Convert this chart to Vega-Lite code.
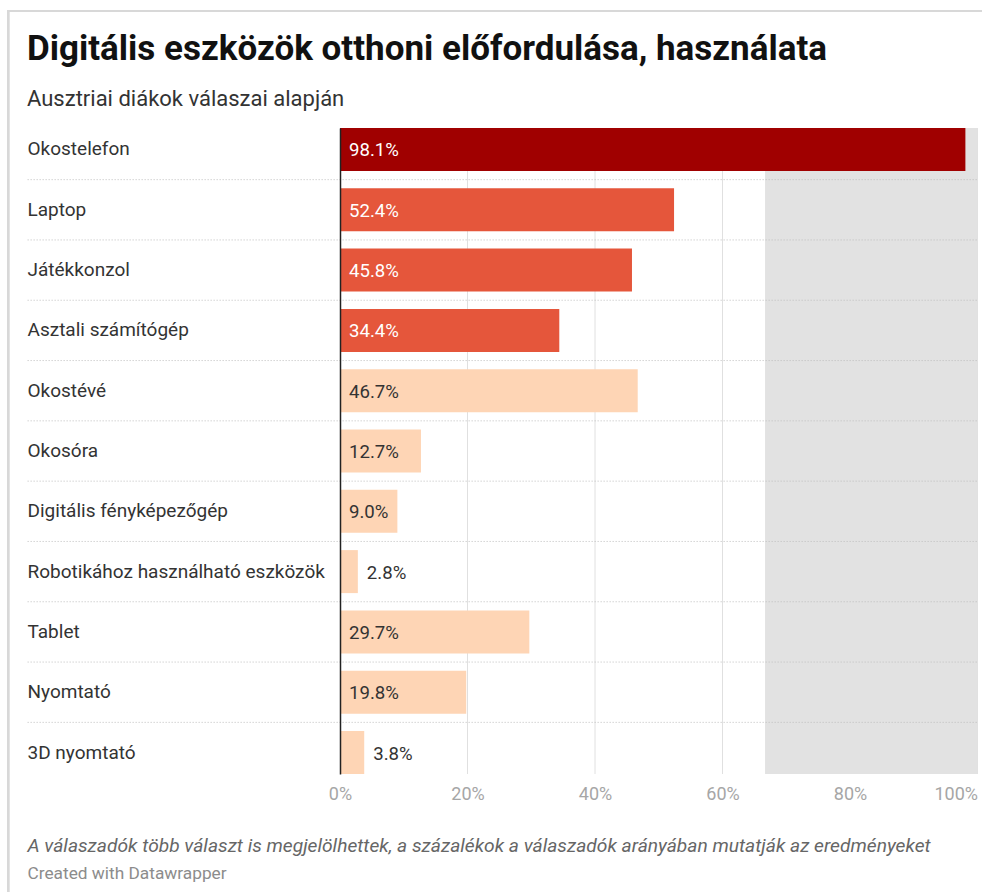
{
  "$schema": "https://vega.github.io/schema/vega-lite/v6.json",
  "width": 637.5,
  "height": 646,
  "autosize": {"type": "none"},
  "padding": {"left": 340, "top": 128, "right": 4.5, "bottom": 118},
  "background": "white",
  "title": {
    "text": "Digitális eszközök otthoni előfordulása, használata",
    "subtitle": "Ausztriai diákok válaszai alapján",
    "anchor": "start",
    "frame": "group",
    "dx": -313,
    "offset": -101,
    "font": "Roboto",
    "fontSize": 35,
    "fontWeight": "bold",
    "color": "#111111",
    "subtitleFont": "Roboto",
    "subtitleFontSize": 22,
    "subtitleColor": "#333333",
    "subtitlePadding": 21.5
  },
  "datasets": {
    "eszkozok": [
      {"eszkoz": "Okostelefon", "arany": 0.981, "csoport": "okostelefon"},
      {"eszkoz": "Laptop", "arany": 0.524, "csoport": "számítógép"},
      {"eszkoz": "Játékkonzol", "arany": 0.458, "csoport": "számítógép"},
      {"eszkoz": "Asztali számítógép", "arany": 0.344, "csoport": "számítógép"},
      {"eszkoz": "Okostévé", "arany": 0.467, "csoport": "egyéb"},
      {"eszkoz": "Okosóra", "arany": 0.127, "csoport": "egyéb"},
      {"eszkoz": "Digitális fényképezőgép", "arany": 0.09, "csoport": "egyéb"},
      {"eszkoz": "Robotikához használható eszközök", "arany": 0.028, "csoport": "egyéb"},
      {"eszkoz": "Tablet", "arany": 0.297, "csoport": "egyéb"},
      {"eszkoz": "Nyomtató", "arany": 0.198, "csoport": "egyéb"},
      {"eszkoz": "3D nyomtató", "arany": 0.038, "csoport": "egyéb"}
    ],
    "racs": [
      {"ertek": 0.2},
      {"ertek": 0.4},
      {"ertek": 0.6},
      {"ertek": 0.8}
    ]
  },
  "data": {"name": "eszkozok"},
  "layer": [
    {
      "data": {"name": "racs"},
      "mark": {"type": "rule", "color": "#e0e0e0", "strokeWidth": 1},
      "encoding": {
        "x": {"field": "ertek", "type": "quantitative"}
      }
    },
    {
      "mark": {"type": "rect", "color": "#e2e2e2", "opacity": 0.86},
      "encoding": {
        "x": {"datum": 0.667, "type": "quantitative"},
        "x2": {"datum": 1.0}
      }
    },
    {
      "transform": [{"filter": "datum.eszkoz !== '3D nyomtató'"}],
      "mark": {"type": "rule", "color": "#bdbdbd", "strokeWidth": 1, "strokeDash": [1, 2], "yOffset": 30.15},
      "encoding": {
        "x": {"datum": -0.49, "type": "quantitative"},
        "x2": {"datum": 1.0},
        "y": {"field": "eszkoz", "type": "nominal"}
      }
    },
    {
      "transform": [{"filter": "datum.eszkoz === 'Okostelefon'"}],
      "mark": {"type": "rule", "color": "#d8d8d8", "strokeWidth": 2},
      "encoding": {
        "x": {"datum": -0.5192, "type": "quantitative"},
        "x2": {"datum": 1.02},
        "y": {"field": "eszkoz", "type": "nominal", "bandPosition": -2.72}
      }
    },
    {
      "mark": {"type": "rule", "color": "#d8d8d8", "strokeWidth": 2},
      "encoding": {
        "x": {"datum": -0.5206, "type": "quantitative"},
        "y": {"datum": "Okostelefon", "type": "nominal", "bandPosition": -2.745},
        "y2": {"datum": "3D nyomtató", "bandPosition": 3.9}
      }
    },
    {
      "mark": {"type": "bar"},
      "encoding": {
        "y": {
          "field": "eszkoz",
          "type": "nominal",
          "sort": null,
          "scale": {
            "domain": ["Okostelefon", "Laptop", "Játékkonzol", "Asztali számítógép", "Okostévé", "Okosóra", "Digitális fényképezőgép", "Robotikához használható eszközök", "Tablet", "Nyomtató", "3D nyomtató"],
            "paddingInner": 0.287,
            "paddingOuter": 0,
            "round": false
          },
          "axis": {
            "orient": "left",
            "zindex": 1,
            "domain": true,
            "domainColor": "#222222",
            "domainWidth": 1.5,
            "ticks": false,
            "grid": false,
            "labelPadding": 313,
            "labelAlign": "left",
            "labelBaseline": "middle",
            "labelFont": "Roboto",
            "labelFontSize": 19,
            "labelColor": "#333333",
            "labelLimit": 400,
            "title": "Created with Datawrapper",
            "titleAngle": 0,
            "titleX": -313,
            "titleY": 750,
            "titleAlign": "left",
            "titleBaseline": "alphabetic",
            "titleFont": "Roboto",
            "titleFontSize": 17.3,
            "titleFontWeight": "normal",
            "titleColor": "#8c8c8c"
          }
        },
        "x": {
          "field": "arany",
          "type": "quantitative",
          "scale": {"domain": [0, 1], "nice": false},
          "axis": {
            "orient": "bottom",
            "values": [0, 0.2, 0.4, 0.6, 0.8, 1],
            "format": ".0%",
            "domain": false,
            "ticks": false,
            "grid": false,
            "labelPadding": 11,
            "labelFont": "Roboto",
            "labelFontSize": 18,
            "labelColor": "#a6a6a6",
            "labelAlign": {"condition": {"test": "datum.value === 1", "value": "right"}, "value": "center"},
            "labelFlush": false,
            "labelOverlap": false,
            "title": "A válaszadók több választ is megjelölhettek, a százalékok a válaszadók arányában mutatják az eredményeket",
            "titleX": -313,
            "titleY": 77,
            "titleAlign": "left",
            "titleAnchor": "start",
            "titleBaseline": "alphabetic",
            "titleFont": "Roboto",
            "titleFontSize": 19.2,
            "titleFontStyle": "italic",
            "titleFontWeight": "normal",
            "titleColor": "#666666",
            "titleLimit": 1000
          }
        },
        "x2": {"datum": 0},
        "color": {
          "field": "csoport",
          "type": "nominal",
          "scale": {"domain": ["okostelefon", "számítógép", "egyéb"], "range": ["#a00000", "#e5563b", "#fed5b5"]},
          "legend": null
        }
      }
    },
    {
      "transform": [{"filter": "datum.arany >= 0.05"}],
      "mark": {"type": "text", "align": "left", "baseline": "middle", "dx": 9, "dy": 1, "font": "Roboto", "fontSize": 18.6},
      "encoding": {
        "x": {"datum": 0, "type": "quantitative"},
        "y": {"field": "eszkoz", "type": "nominal"},
        "text": {"field": "arany", "type": "quantitative", "format": ".1%"},
        "color": {
          "condition": {"test": "datum.csoport !== 'egyéb'", "value": "#ffffff"},
          "value": "#333333"
        }
      }
    },
    {
      "transform": [{"filter": "datum.arany < 0.05"}],
      "mark": {"type": "text", "align": "left", "baseline": "middle", "dx": 9, "dy": 1, "font": "Roboto", "fontSize": 18.6, "color": "#333333"},
      "encoding": {
        "x": {"field": "arany", "type": "quantitative"},
        "y": {"field": "eszkoz", "type": "nominal"},
        "text": {"field": "arany", "type": "quantitative", "format": ".1%"}
      }
    }
  ],
  "config": {
    "font": "Roboto",
    "view": {"stroke": null},
    "axis": {"grid": false, "ticks": false}
  }
}
